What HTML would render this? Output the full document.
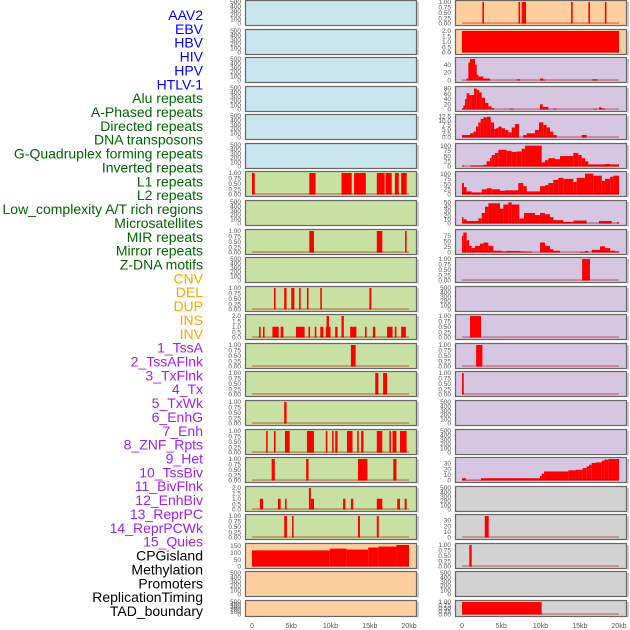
<!DOCTYPE html>
<html><head><meta charset="utf-8">
<style>
html,body{margin:0;padding:0;background:#fff;width:630px;height:630px;overflow:hidden}
svg{display:block;font-family:"Liberation Sans",sans-serif}
</style></head>
<body>
<svg id="chart" width="630" height="630" viewBox="0 0 630 630"></svg>
<script>
const trackNames=["AAV2","EBV","HBV","HIV","HPV","HTLV-1","Alu repeats","A-Phased repeats","Directed repeats","DNA transposons","G-Quadruplex forming repeats","Inverted repeats","L1 repeats","L2 repeats","Low_complexity A/T rich regions","Microsatellites","MIR repeats","Mirror repeats","Z-DNA motifs","CNV","DEL","DUP","INS","INV","1_TssA","2_TssAFlnk","3_TxFlnk","4_Tx","5_TxWk","6_EnhG","7_Enh","8_ZNF_Rpts","9_Het","10_TssBiv","11_BivFlnk","12_EnhBiv","13_ReprPC","14_ReprPCWk","15_Quies","CPGisland","Methylation","Promoters","ReplicationTiming","TAD_boundary"];
const labelColors=["#0000ff","#0000ff","#0000ff","#0000ff","#0000ff","#0000ff","#006400","#006400","#006400","#006400","#006400","#006400","#006400","#006400","#006400","#006400","#006400","#006400","#006400","#ffa500","#ffa500","#ffa500","#ffa500","#ffa500","#a020f0","#a020f0","#a020f0","#a020f0","#a020f0","#a020f0","#a020f0","#a020f0","#a020f0","#a020f0","#a020f0","#a020f0","#a020f0","#a020f0","#a020f0","#000","#000","#000","#000","#000"];
const panelBg=["#c8e4ec","#c8e4ec","#c8e4ec","#c8e4ec","#c8e4ec","#c8e4ec","#c8e0a2","#c8e0a2","#c8e0a2","#c8e0a2","#c8e0a2","#c8e0a2","#c8e0a2","#c8e0a2","#c8e0a2","#c8e0a2","#c8e0a2","#c8e0a2","#c8e0a2","#fecf9e","#fecf9e","#fecf9e","#fecf9e","#fecf9e","#d6c6e2","#d6c6e2","#d6c6e2","#d6c6e2","#d6c6e2","#d6c6e2","#d6c6e2","#d6c6e2","#d6c6e2","#d6c6e2","#d6c6e2","#d6c6e2","#d6c6e2","#d6c6e2","#d6c6e2","#d2d2d2","#d2d2d2","#d2d2d2","#d2d2d2","#d2d2d2"];
const T500=["0","100","200","300","400","500"],T1=["0.00","0.25","0.50","0.75","1.00"],T2=["0.0","0.5","1.0","1.5","2.0"];
const yMax=[500,500,500,500,500,500,1,500,1,500,1,2,1,1,1,1,1,2,1,155,500,500,1,2,54,82,12.8,103,103,51,97,1,500,1,1,1,500,500,38,500,38,1,500,1];
const tickLabels=[T500,T500,T500,T500,T500,T500,T1,T500,T1,T500,T1,T2,T1,T1,T1,T1,T1,T2,T1,["0","50","100","150"],T500,T500,T1,T2,["0","20","40"],["0","20","40","60","80"],["0.0","2.5","5.0","7.5","10.0","12.5"],["0","25","50","75","100"],["0","25","50","75","100"],["0","10","20","30","40","50"],["0","25","50","75"],T1,T500,T1,T1,T1,T500,T500,["0","10","20","30"],T500,["0","10","20","30"],T1,T500,T1];
const segs=[[],[],[],[],[],[],
[[0,0.35,1],[7.3,8.1,1],[11.4,12.7,1],[13.0,14.5,1],[15.9,16.9,1],[17.0,17.8,1],[18.2,18.7,1],[19.0,19.7,1]],
[],
[[7.3,7.9,1],[15.9,16.6,1],[19.5,19.7,1]],
[],
[[2.8,3.0,1],[4.1,4.4,1],[5.0,5.4,1],[6.0,6.2,1],[7.0,7.2,1],[8.7,8.9,1],[14.95,15.2,1]],
[[0.9,1.1,1],[1.4,1.6,1],[2.6,3.4,1],[3.65,4.0,1],[5.6,6.7,1],[7.2,7.4,1],[8.0,8.2,1],[8.7,9.1,1],[9.4,10.0,1],[9.5,9.8,2],[10.6,10.9,1],[11.4,11.7,2],[12.5,13.3,1],[14.4,14.6,1],[15.4,15.7,1],[17.2,17.9,1],[18.2,18.4,1],[19.0,19.6,1]],
[[12.6,13.2,1]],
[[15.7,16.1,1],[16.7,17.2,1]],
[[4.1,4.4,1]],
[[1.8,2.0,1],[2.8,3.0,1],[4.2,4.8,1],[7.0,7.9,1],[9.4,9.6,1],[10.2,10.4,1],[10.6,10.9,1],[12.1,12.8,1],[13.4,13.6,1],[13.9,14.2,1],[15.9,16.6,1],[17.5,17.7,1],[17.9,18.4,1],[18.85,19.7,1]],
[[2.5,2.9,1],[6.9,7.2,1],[13.5,14.7,1],[18.0,18.4,1]],
[[1.0,1.4,1],[3.3,3.65,1],[4.2,4.4,1],[7.25,7.5,2],[7.5,7.9,1],[11.6,11.9,1],[12.6,12.9,1],[15.9,16.6,1],[18.5,18.85,1],[19.45,19.7,1]],
[[4.1,4.45,1],[5.1,5.3,1],[13.5,13.75,1],[15.9,16.15,1]],
[[0,9.9,116],[9.9,12.06,129],[12.06,14.8,122],[14.8,16.1,137],[16.1,18.4,144],[18.4,20,160]],
[],[],
[[2.6,2.8,1],[7.2,7.4,1],[7.6,8.15,1],[13.9,14.1,1],[16.1,16.3,1],[18.2,18.4,1]],
[[0,20,2]],
[[0.59,0.81,5],[0.81,1.02,45],[1.02,1.65,55],[1.65,1.87,40],[1.87,2.08,15],[2.08,2.72,10],[2.72,3.57,5],[6.96,7.39,3],[9.94,10.36,5],[10.36,10.57,2],[16.6,17.3,3]],
[[0,0.17,5],[0.17,0.38,15],[0.38,0.59,40],[0.59,0.93,62],[0.93,1.23,55],[1.23,1.53,55],[1.53,1.87,80],[1.87,2.17,75],[2.17,2.51,65],[2.51,2.93,45],[2.93,3.36,25],[3.36,3.78,12],[3.78,4.08,5],[6.03,6.54,3],[9.94,10.28,20],[10.28,11.0,10],[11.63,12.06,3],[16.8,17.16,3],[17.45,17.8,8],[17.8,18.22,4]],
[[0,1.02,1.5],[1.02,1.44,2.5],[1.44,1.78,3.5],[1.78,2.08,6.5],[2.08,2.38,9],[2.38,2.72,11],[2.72,3.14,12],[3.14,3.65,12.3],[3.65,4.08,9],[4.08,4.33,5],[4.33,4.63,5.5],[4.63,5.05,6.5],[5.05,5.48,5.5],[5.48,5.9,4.5],[5.9,6.33,3],[6.33,6.75,6],[6.75,7.26,8],[7.81,8.24,1.5],[8.24,9.3,2.5],[9.3,9.81,4.5],[9.81,10.36,9],[10.36,10.79,7.5],[10.79,11.21,6],[11.21,11.63,3.5],[11.63,12.06,1.5],[15.24,15.88,1.5]],
[[0,0.25,5],[1.1,2.72,5],[2.72,3.14,8],[3.14,3.57,25],[3.57,3.78,40],[3.78,4.2,55],[4.2,4.63,65],[4.63,5.69,80],[5.69,6.33,75],[6.33,6.96,70],[6.96,7.6,72],[7.6,8.03,85],[8.03,8.66,100],[8.66,10.15,100],[10.15,10.57,20],[10.57,11.0,30],[11.0,11.85,40],[11.85,12.48,35],[12.48,14.18,50],[14.18,14.82,65],[14.82,15.24,55],[15.24,15.67,40],[15.67,16.09,25],[16.09,18.22,10],[18.22,18.87,12],[18.87,20,10]],
[[0,0.25,55],[0.25,0.59,35],[0.59,1.23,15],[1.23,2.51,10],[2.51,3.14,25],[3.14,3.78,30],[3.78,4.84,25],[4.84,5.48,18],[5.48,7.17,20],[7.17,7.81,55],[7.81,8.24,40],[8.24,9.94,15],[9.94,10.57,40],[10.57,11.0,45],[11.0,11.63,55],[11.63,12.27,70],[12.27,12.91,80],[12.91,14.18,75],[14.18,14.61,60],[14.61,15.67,80],[15.67,16.73,100],[16.73,17.8,90],[17.8,18.22,65],[18.22,18.87,75],[18.87,19.29,85],[19.29,20,90]],
[[0,0.17,15],[0.17,0.59,10],[0.59,2.08,6],[2.08,2.51,12],[2.51,2.93,25],[2.93,3.36,40],[3.36,4.84,48],[4.84,5.27,35],[5.27,5.9,45],[5.9,6.33,50],[6.33,7.3,45],[7.3,7.9,12],[7.9,8.66,25],[8.66,9.3,25],[9.3,9.94,20],[9.94,10.57,25],[10.57,11.21,22],[11.21,11.63,15],[11.63,12.91,8],[12.91,14.18,4],[14.18,15.88,7],[17.45,19.07,6],[19.72,20,3]],
[[0,0.17,75],[0.17,0.59,90],[0.59,0.93,55],[0.93,1.23,30],[1.23,1.65,20],[1.65,2.29,30],[2.29,2.72,40],[2.72,3.36,45],[3.36,3.99,30],[3.99,5.05,8],[5.05,5.69,5],[5.69,6.33,7],[6.33,7.39,7],[7.39,7.9,5],[7.9,8.88,4],[9.94,10.57,45],[10.57,11.21,30],[11.21,11.63,15],[11.63,12.48,8],[15.03,15.67,3],[15.67,16.09,7],[16.52,17.58,12],[17.58,18.22,28],[18.22,18.87,20],[18.87,19.5,8],[19.5,20,5]],
[[15.3,16.3,1]],
[],
[[1.02,2.42,1]],
[[1.8,2.6,1]],
[[0,0.22,1]],
[],[],
[[0,0.5,4],[0.5,2.42,0.6],[2.42,9.94,4],[9.94,10.15,8],[10.15,10.45,12],[10.45,13.54,16],[13.54,14.52,18],[14.52,15.37,19],[15.37,15.88,22],[15.88,16.18,25],[16.18,16.52,28],[16.52,17.07,31],[17.07,17.8,32],[17.8,18.14,35],[18.14,18.65,37],[18.65,20,38]],
[],
[[2.9,3.4,38]],
[[0.93,1.23,1]],
[],
[[0,10.15,1]]
];
const xTickVals=[0,5,10,15,20];
const xTickText=["0","5kb","10kb","15kb","20kb"];

const svg=document.getElementById('chart');
const NS="http://www.w3.org/2000/svg";
function mk(tag,attrs,parent){const e=document.createElementNS(NS,tag);for(const k in attrs)e.setAttribute(k,attrs[k]);(parent||svg).appendChild(e);return e;}
function panelGeom(i){const col=i<22?0:1;const r=i%22;const x=col?455:245;const y=Math.round(r*28.57);const h=r===21?16:25;return {x,y,w:171,h};}
function xScale(g,kb){return g.x+7+kb*7.85;}
function yScale(g,v,max){const top=g.y+2,bot=g.y+g.h-1.5;return bot-Math.min(v,max)/max*(bot-top);}

trackNames.forEach((n,i)=>{
  const t=mk('text',{x:203,y:(15+i*13.86+5).toFixed(1),'text-anchor':'end','font-size':'14',fill:labelColors[i]});
  t.textContent=n;
  
  
});

trackNames.forEach((n,i)=>{
  const g=panelGeom(i);
  const grp=mk('g',{});
  
  
  const bg=mk('rect',{x:g.x+0.5,y:g.y+0.5,width:g.w,height:g.h,fill:panelBg[i],stroke:'#666','stroke-width':1.2},grp);
  
  
  mk('line',{x1:g.x+g.w+2,y1:g.y+2,x2:g.x+g.w+2,y2:g.y+g.h+1.5,stroke:'#bbb','stroke-width':1.5},grp);
  const max=yMax[i];
  const s=segs[i];
  s.forEach(d=>{
    const x0=xScale(g,d[0]),x1=xScale(g,d[1]);
    const yv=yScale(g,d[2],max),yb=yScale(g,0,max);
    const r=mk('rect',{x:x0.toFixed(2),y:yv.toFixed(2),width:Math.max(1.2,x1-x0).toFixed(2),height:(yb-yv).toFixed(2),fill:'#ff0000'},grp);
    
    
  });
  if(s.length){
    const yb=yScale(g,0,max);
    const bl=mk('rect',{x:xScale(g,0),y:yb-1.2,width:xScale(g,20)-xScale(g,0),height:1.5,fill:'rgba(170,0,0,0.4)'},grp);
    
    
  }
  const tl=tickLabels[i];
  tl.forEach(lab=>{
    const v=parseFloat(lab);
    const t=mk('text',{x:g.x-4,y:(yScale(g,v,max)+2.2).toFixed(1),'text-anchor':'end','font-size':'6.5',fill:'#555'},grp);
    t.textContent=lab;
    
    
  });
});

[0,1].forEach(col=>{
  const g=panelGeom(col*22+21);
  xTickVals.forEach((v,k)=>{
    const t=mk('text',{x:xScale(g,v).toFixed(1),y:628,'text-anchor':'middle','font-size':'7',fill:'#555'});
    t.textContent=xTickText[k];
    
    
  });
});
</script>
</body></html>
